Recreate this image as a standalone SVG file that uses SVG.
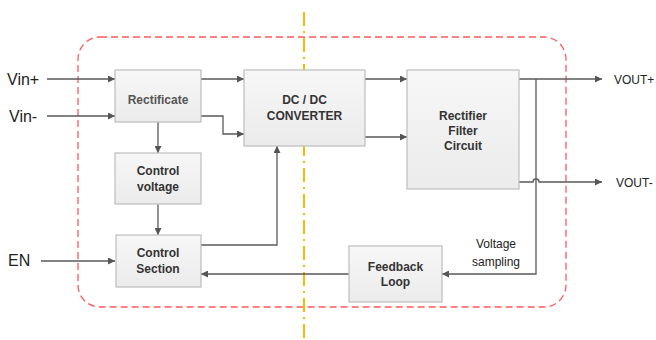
<svg xmlns="http://www.w3.org/2000/svg" width="656" height="340" viewBox="0 0 656 340">
<defs>
<linearGradient id="g" x1="0" y1="0" x2="0" y2="1"><stop offset="0" stop-color="#f7f7f7"/><stop offset="1" stop-color="#ebebeb"/></linearGradient>
<marker id="a" viewBox="0 0 10 10" refX="10" refY="5" markerWidth="7" markerHeight="7" orient="auto" markerUnits="userSpaceOnUse"><path d="M0,0 L10,5 L0,10 z" fill="#555"/></marker>
<style>
.box{fill:url(#g);stroke:#bdbdbd;stroke-width:1.2}
.bt{font-family:"Liberation Sans",Arial,sans-serif;font-size:12px;font-weight:bold;fill:#333;text-anchor:middle}
.lt{font-family:"Liberation Sans",Arial,sans-serif;fill:#222}
.c{fill:none;stroke:#595959;stroke-width:1.3}
</style>
</defs>
<rect width="656" height="340" fill="#fff"/>
<rect x="78" y="37" width="488" height="270" rx="22" fill="none" stroke="#ff5a5a" stroke-width="1.3" stroke-dasharray="7,4"/>
<line x1="304" y1="12" x2="304" y2="340" stroke="#ffb800" stroke-width="2" stroke-dasharray="14,5,2,5"/>
<g id="connectors">
<line class="c" x1="47" y1="79" x2="115" y2="79" marker-end="url(#a)"/>
<line class="c" x1="47" y1="116" x2="115" y2="116" marker-end="url(#a)"/>
<line class="c" x1="201" y1="79" x2="244" y2="79" marker-end="url(#a)"/>
<polyline class="c" points="201,116 223,116 223,134 244,134" marker-end="url(#a)"/>
<line class="c" x1="158" y1="122" x2="158" y2="153" marker-end="url(#a)"/>
<line class="c" x1="158" y1="204" x2="158" y2="235" marker-end="url(#a)"/>
<polyline class="c" points="201,245 277,245 277,146" marker-end="url(#a)"/>
<line class="c" x1="41" y1="261" x2="115" y2="261" marker-end="url(#a)"/>
<line class="c" x1="349" y1="274" x2="201" y2="274" marker-end="url(#a)"/>
<line class="c" x1="365" y1="79" x2="407" y2="79" marker-end="url(#a)"/>
<line class="c" x1="365" y1="137" x2="407" y2="137" marker-end="url(#a)"/>
<line class="c" x1="519" y1="79" x2="602" y2="79" marker-end="url(#a)"/>
<path class="c" d="M519,182 H533 A3,3 0 0 1 539,182 H602" marker-end="url(#a)"/>
<polyline class="c" points="536,79 536,274 442,274" marker-end="url(#a)"/>
</g>
<g id="rectificate"><rect class="box" x="115" y="70" width="86" height="52"/><text class="bt" x="158" y="104" style="fill:#555">Rectificate</text></g>
<g id="dcdc"><rect class="box" x="244" y="70" width="121" height="76"/><text class="bt" x="304.5" y="104">DC / DC</text><text class="bt" x="304.5" y="120">CONVERTER</text></g>
<g id="filter"><rect class="box" x="407" y="70" width="112" height="119"/><text class="bt" x="463" y="120">Rectifier</text><text class="bt" x="463" y="135">Filter</text><text class="bt" x="463" y="150">Circuit</text></g>
<g id="controlvoltage"><rect class="box" x="115" y="153" width="86" height="51"/><text class="bt" x="158" y="175">Control</text><text class="bt" x="158" y="191">voltage</text></g>
<g id="controlsection"><rect class="box" x="116" y="235" width="85" height="52"/><text class="bt" x="158" y="257">Control</text><text class="bt" x="158" y="273">Section</text></g>
<g id="feedback"><rect class="box" x="349" y="246" width="93" height="56"/><text class="bt" x="395.5" y="271">Feedback</text><text class="bt" x="395.5" y="286">Loop</text></g>
<g id="labels">
<text class="lt" x="7" y="85" font-size="16">Vin+</text>
<text class="lt" x="9" y="122" font-size="16">Vin-</text>
<text class="lt" x="8" y="266" font-size="16">EN</text>
<text class="lt" x="614" y="84" font-size="12">VOUT+</text>
<text class="lt" x="616" y="187" font-size="12">VOUT-</text>
<text class="lt" x="496" y="248" font-size="12" text-anchor="middle" fill="#333">Voltage</text>
<text class="lt" x="496" y="266" font-size="12" text-anchor="middle" fill="#333">sampling</text>
</g>
</svg>
